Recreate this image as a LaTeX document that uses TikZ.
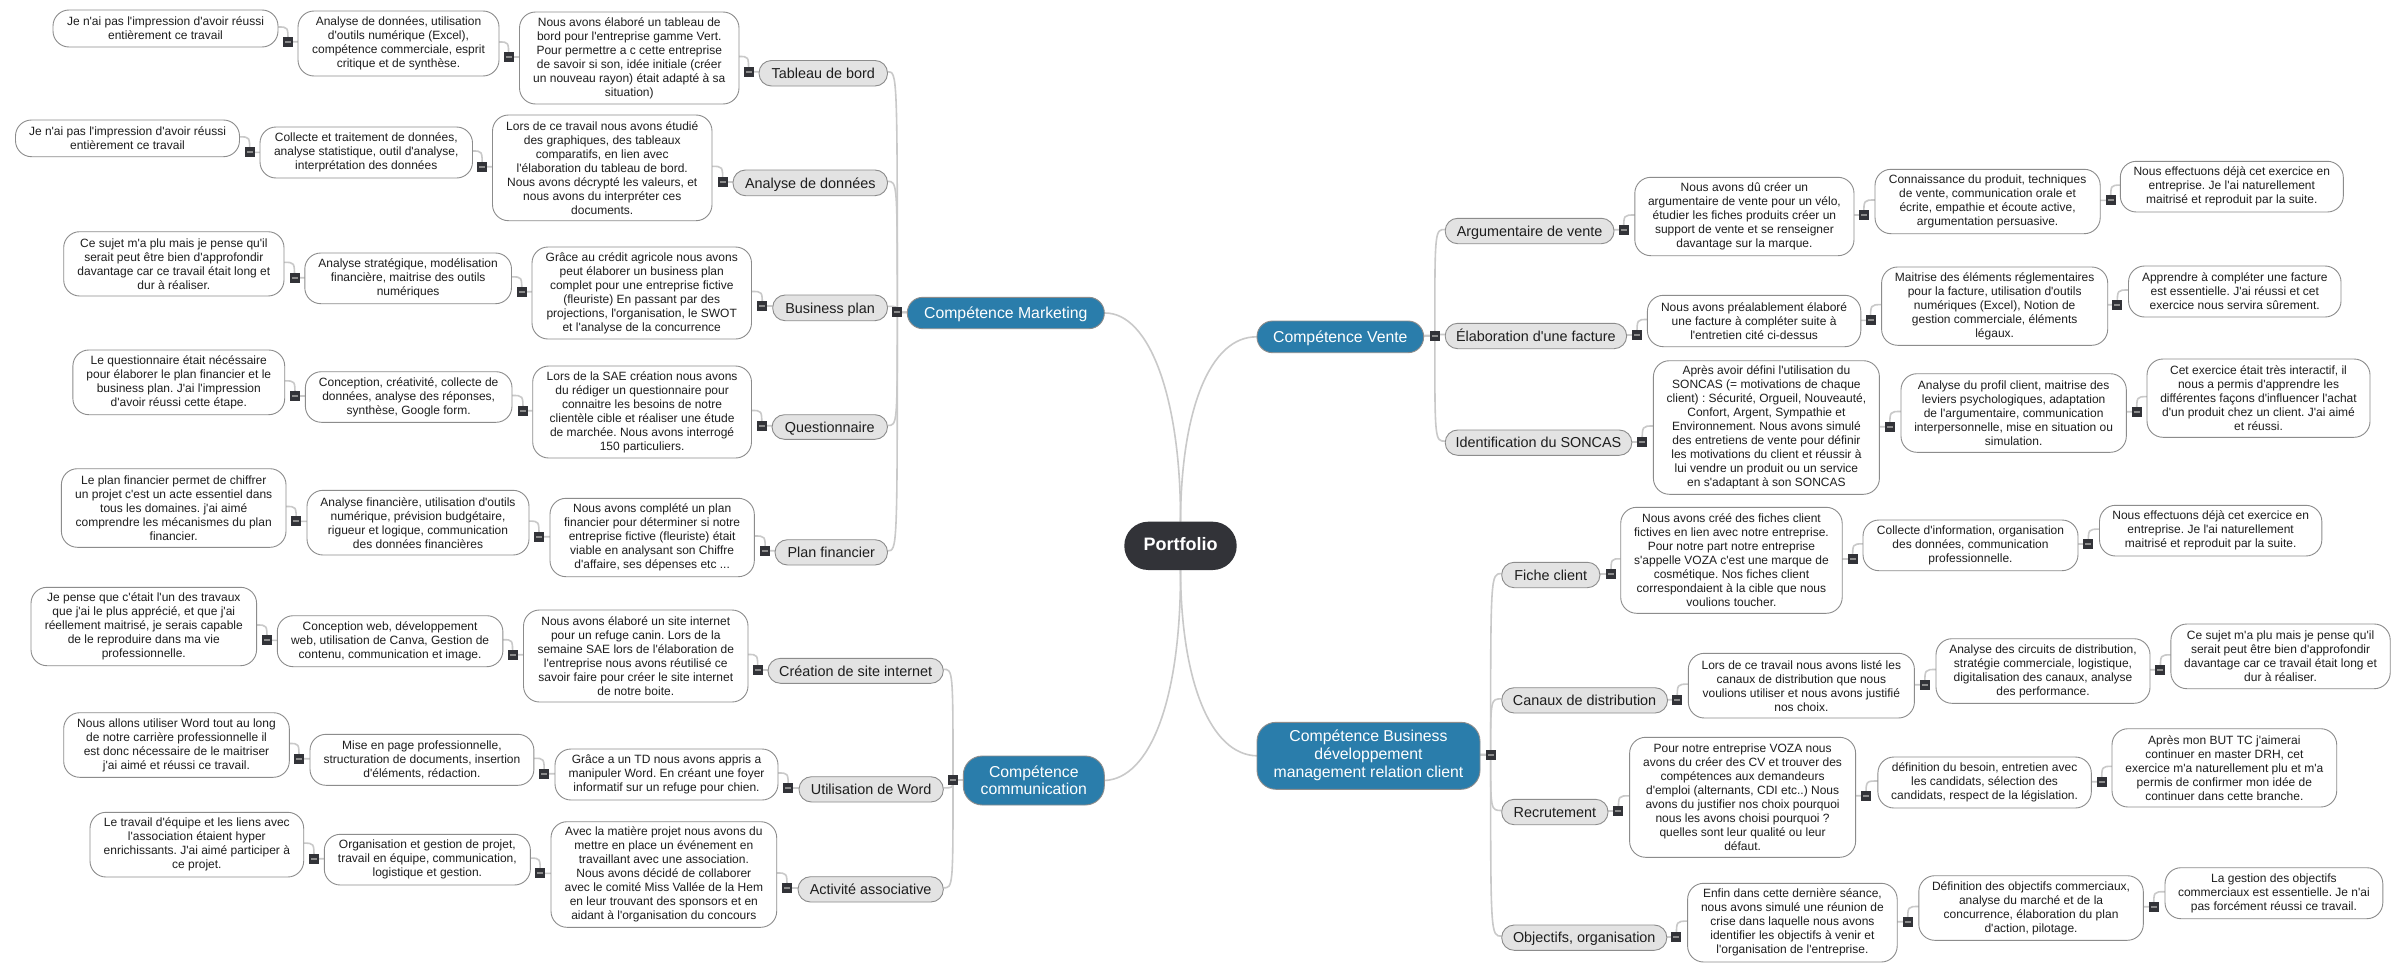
\documentclass[tikz,border=0pt]{standalone}
\usepackage{fontspec}
\setmainfont[Ligatures=TeXOff]{Liberation Sans}
\usetikzlibrary{backgrounds}
\definecolor{conn}{HTML}{C9C9C9}
\definecolor{edge}{HTML}{8C8C8C}
\definecolor{grayfill}{HTML}{E3E3E3}
\definecolor{bluefill}{HTML}{2A7DAB}
\definecolor{darkfill}{HTML}{323338}
\definecolor{ink}{HTML}{1E1E1E}
\frenchspacing
\tikzset{
  x=1pt,y=-1pt,
  base/.style={inner sep=0pt,outer sep=0pt,align=center,draw=edge,line width=0.9pt,text=ink},
  wbox/.style={base,fill=white,rounded corners=16pt,font=\frenchspacing\fontsize{12}{14}\selectfont},
  gbox/.style={base,fill=grayfill,rounded corners=12.5pt,text height=13.5pt,text depth=3pt,font=\frenchspacing\fontsize{14.4}{17}\selectfont},
  bbox/.style={base,fill=bluefill,rounded corners=15.5pt,text=white,font=\fontsize{15.8}{18}\selectfont},
  bline/.style={bbox,text height=14pt,text depth=3.5pt},
  bmulti/.style={bbox,rounded corners=19pt},
  pbox/.style={base,draw=none,fill=darkfill,rounded corners=24pt,text=white,text height=13pt,text depth=3.5pt,font=\fontsize{18}{21}\selectfont\bfseries},
  toggle/.style={inner sep=0pt,outer sep=0pt,fill=darkfill,minimum width=10pt,minimum height=10pt},
  linkline/.style={draw=conn,line width=1.6pt},
}
\newcommand{\nb}[7][wbox]{%
  \pgfmathsetmacro{\cxx}{(#3+#5)/2}\pgfmathsetmacro{\cyy}{(#4+#6)/2}%
  \pgfmathsetmacro{\www}{#5-#3}\pgfmathsetmacro{\hhh}{#6-#4}%
  \node[#1,minimum width=\www pt,minimum height=\hhh pt] (#2) at (\cxx,\cyy) {#7};}
\newcommand{\mk}[3]{\node[toggle] (#1) at (#2,#3) {\textcolor{black!45}{\rule[0pt]{6pt}{2pt}}};}
\newcommand{\lnkL}[3]{\coordinate (lnkend) at ([yshift=1.5pt]#1.east);\draw[linkline] (lnkend) .. controls (#2.center |- lnkend) and (#2.center |- lnkend) .. (#2.center) -- (#2.center -| #3.west);}
\newcommand{\lnkR}[3]{\coordinate (lnkend) at ([yshift=1.5pt]#1.west);\draw[linkline] (lnkend) .. controls (#2.center |- lnkend) and (#2.center |- lnkend) .. (#2.center) -- (#2.center -| #3.east);}
\begin{document}
\begin{tikzpicture}
\path[use as bounding box] (0,0) rectangle (2406,969);
% centre
\nb[pbox]{port}{1124.3}{521.7}{1236.7}{570}{Portfolio}
\nb[bline]{mkt}{907.3}{297.3}{1104.3}{328.7}{Compétence Marketing}
\nb[bmulti,font=\fontsize{15.8}{17}\selectfont]{com}{963.3}{756}{1104.3}{805}{Compétence\\communication}
\nb[bline]{ven}{1257}{321}{1423.6}{352.7}{Compétence Vente}
\nb[bmulti]{bus}{1257}{722.3}{1480}{789.3}{Compétence Business\\développement\\management relation client}
% Marketing
\nb[gbox]{a0}{759}{60.5}{887.5}{86}{Tableau de bord}
\nb{a1}{519.5}{12}{739}{104}{Nous avons élaboré un tableau de\\bord pour l'entreprise gamme Vert.\\Pour permettre a c cette entreprise\\de savoir si son, idée initiale (créer\\un nouveau rayon) était adapté à sa\\situation)}
\nb{a2}{298}{11}{499}{76}{Analyse de données, utilisation\\d'outils numérique (Excel),\\compétence commerciale, esprit\\critique et de synthèse.}
\nb{a3}{53}{10}{278}{47}{Je n'ai pas l'impression d'avoir réussi\\entièrement ce travail}
\nb[gbox]{b0}{733}{170}{887.5}{195.7}{Analyse de données}
\nb{b1}{492.5}{115}{712}{220.7}{Lors de ce travail nous avons étudié\\des graphiques, des tableaux\\comparatifs, en lien avec\\l'élaboration du tableau de bord.\\Nous avons décrypté les valeurs, et\\nous avons du interpréter ces\\documents.}
\nb{b2}{260}{127}{472.5}{178}{Collecte et traitement de données,\\analyse statistique, outil d'analyse,\\interprétation des données}
\nb{b3}{15.5}{120}{239.5}{156.7}{Je n'ai pas l'impression d'avoir réussi\\entièrement ce travail}
\nb[gbox]{c0}{772.7}{295}{887.5}{320.7}{Business plan}
\nb{c1}{532}{247}{751.5}{339}{Grâce au crédit agricole nous avons\\peut élaborer un business plan\\complet pour une entreprise fictive\\(fleuriste) En passant par des\\projections, l'organisation, le SWOT\\et l'analyse de la concurrence}
\nb{c2}{304.8}{253}{511.5}{303.7}{Analyse stratégique, modélisation\\financière, maitrise des outils\\numériques}
\nb{c3}{63.7}{231.7}{284}{296}{Ce sujet m'a plu mais je pense qu'il\\serait peut être bien d'approfondir\\davantage car ce travail était long et\\dur à réaliser.}
\nb[gbox]{d0}{772}{414.7}{887.5}{439.3}{Questionnaire}
\nb{d1}{532.7}{366}{751.5}{458}{Lors de la SAE création nous avons\\du rédiger un questionnaire pour\\connaitre les besoins de notre\\clientèle cible et réaliser une étude\\de marchée. Nous avons interrogé\\150 particuliers.}
\nb{d2}{305.4}{371.7}{512}{422.3}{Conception, créativité, collecte de\\données, analyse des réponses,\\synthèse, Google form.}
\nb{d3}{72.9}{350}{284.7}{414.7}{Le questionnaire était nécéssaire\\pour élaborer le plan financier et le\\business plan. J'ai l'impression\\d'avoir réussi cette étape.}
\nb[gbox]{e0}{775}{539.7}{887.5}{565}{Plan financier}
\nb{e1}{550}{498.3}{754.3}{576.7}{Nous avons complété un plan\\financier pour déterminer si notre\\entreprise fictive (fleuriste) était\\viable en analysant son Chiffre\\d'affaire, ses dépenses etc ...}
\nb{e2}{307}{490.3}{529}{555}{Analyse financière, utilisation d'outils\\numérique, prévision budgétaire,\\rigueur et logique, communication\\des données financières}
\nb{e3}{61.4}{468.7}{286}{547.3}{Le plan financier permet de chiffrer\\un projet c'est un acte essentiel dans\\tous les domaines. j'ai aimé\\comprendre les mécanismes du plan\\financier.}
% Communication
\nb[gbox]{f0}{768}{658.3}{943.3}{683.3}{Création de site internet}
\nb{f1}{523.5}{610}{748}{702}{Nous avons élaboré un site internet\\pour un refuge canin. Lors de la\\semaine SAE lors de l'élaboration de\\l'entreprise nous avons réutilisé ce\\savoir faire pour créer le site internet\\de notre boite.}
\nb{f2}{277.3}{615.7}{502.9}{666.7}{Conception web, développement\\web, utilisation de Canva, Gestion de\\contenu, communication et image.}
\nb{f3}{31}{587.3}{256.6}{665.7}{Je pense que c'était l'un des travaux\\que j'ai le plus apprécié, et que j'ai\\réellement maitrisé, je serais capable\\de le reproduire dans ma vie\\professionnelle.}
\nb[gbox]{g0}{799}{776.7}{943.3}{802}{Utilisation de Word}
\nb{g1}{555}{749}{778}{800}{Grâce a un TD nous avons appris a\\manipuler Word. En créant une foyer\\informatif sur un refuge pour chien.}
\nb{g2}{310}{734.3}{533.9}{785.3}{Mise en page professionnelle,\\structuration de documents, insertion\\d'éléments, rédaction.}
\nb{g3}{63.7}{712.7}{289.3}{777.3}{Nous allons utiliser Word tout au long\\de notre carrière professionnelle il\\est donc nécessaire de le maitriser\\j'ai aimé et réussi ce travail.}
\nb[gbox]{h0}{798}{876.7}{943.3}{902}{Activité associative}
\nb{h1}{551}{821.7}{776.7}{927.3}{Avec la matière projet nous avons du\\mettre en place un événement en\\travaillant avec une association.\\Nous avons décidé de collaborer\\avec le comité Miss Vallée de la Hem\\en leur trouvant des sponsors et en\\aidant à l'organisation du concours}
\nb{h2}{324.3}{834.3}{530.4}{885}{Organisation et gestion de projet,\\travail en équipe, communication,\\logistique et gestion.}
\nb{h3}{90}{812.3}{303.7}{877}{Le travail d'équipe et les liens avec\\l'association étaient hyper\\enrichissants. J'ai aimé participer à\\ce projet.}
% Vente
\nb[gbox]{i0}{1445.2}{218.3}{1614}{243.7}{Argumentaire de vente}
\nb{i1}{1634.8}{177.3}{1854}{255.7}{Nous avons dû créer un\\argumentaire de vente pour un vélo,\\étudier les fiches produits créer un\\support de vente et se renseigner\\davantage sur la marque.}
\nb{i2}{1875}{169.3}{2100.2}{233.7}{Connaissance du produit, techniques\\de vente, communication orale et\\écrite, empathie et écoute active,\\argumentation persuasive.}
\nb{i3}{2120.3}{161.3}{2343.3}{212}{Nous effectuons déjà cet exercice en\\entreprise. Je l'ai naturellement\\maitrisé et reproduit par la suite.}
\nb[gbox]{j0}{1445.2}{323.3}{1626.6}{348.7}{Élaboration d'une facture}
\nb{j1}{1647.4}{295.3}{1860.8}{346.7}{Nous avons préalablement élaboré\\une facture à compléter suite à\\l'entretien cité ci-dessus}
\nb{j2}{1881.6}{267}{2107.7}{345.3}{Maitrise des éléments réglementaires\\pour la facture, utilisation d'outils\\numériques (Excel), Notion de\\gestion commerciale, éléments\\légaux.}
\nb{j3}{2128.5}{266}{2341}{317}{Apprendre à compléter une facture\\est essentielle. J'ai réussi et cet\\exercice nous servira sûrement.}
\nb[gbox]{k0}{1445.2}{430}{1631.8}{455.3}{Identification du SONCAS}
\nb{k1}{1653.4}{360.7}{1879.4}{494.3}{Après avoir défini l'utilisation du\\SONCAS (= motivations de chaque\\client) : Sécurité, Orgueil, Nouveauté,\\Confort, Argent, Sympathie et\\Environnement. Nous avons simulé\\des entretiens de vente pour définir\\les motivations du client et réussir à\\lui vendre un produit ou un service\\en s'adaptant à son SONCAS}
\nb{k2}{1901}{373.7}{2126.3}{452.3}{Analyse du profil client, maitrise des\\leviers psychologiques, adaptation\\de l'argumentaire, communication\\interpersonnelle, mise en situation ou\\simulation.}
\nb{k3}{2147}{359}{2370}{437.3}{Cet exercice était très interactif, il\\nous a permis d'apprendre les\\différentes façons d'influencer l'achat\\d'un produit chez un client. J'ai aimé\\et réussi.}
% Business
\nb[gbox]{l0}{1501.7}{562.3}{1599.9}{587.7}{Fiche client}
\nb{l1}{1620.7}{507.3}{1842.2}{613.3}{Nous avons créé des fiches client\\fictives en lien avec notre entreprise.\\Pour notre part notre entreprise\\s'appelle VOZA c'est une marque de\\cosmétique. Nos fiches client\\correspondaient à la cible que nous\\voulions toucher.}
\nb{l2}{1863}{520}{2078}{570.7}{Collecte d'information, organisation\\des données, communication\\professionnelle.}
\nb{l3}{2099.5}{505.3}{2321.8}{556}{Nous effectuons déjà cet exercice en\\entreprise. Je l'ai naturellement\\maitrisé et reproduit par la suite.}
\nb[gbox]{n0}{1501.7}{687.7}{1667.5}{713}{Canaux de distribution}
\nb{n1}{1688.3}{653.3}{1914.4}{718}{Lors de ce travail nous avons listé les\\canaux de distribution que nous\\voulions utiliser et nous avons justifié\\nos choix.}
\nb{n2}{1936}{638.7}{2150}{703.3}{Analyse des circuits de distribution,\\stratégie commerciale, logistique,\\digitalisation des canaux, analyse\\des performance.}
\nb{n3}{2170.9}{624}{2390.2}{688.7}{Ce sujet m'a plu mais je pense qu'il\\serait peut être bien d'approfondir\\davantage car ce travail était long et\\dur à réaliser.}
\nb[gbox]{o0}{1501.7}{799.3}{1608}{824.7}{Recrutement}
\nb{o1}{1629.6}{737.3}{1855.6}{857.3}{Pour notre entreprise VOZA nous\\avons du créer des CV et trouver des\\compétences aux demandeurs\\d'emploi (alternants, CDI etc..) Nous\\avons du justifier nos choix pourquoi\\nous les avons choisi pourquoi ?\\quelles sont leur qualité ou leur\\défaut.}
\nb{o2}{1877.9}{757}{2091.3}{808}{définition du besoin, entretien avec\\les candidats, sélection des\\candidats, respect de la législation.}
\nb{o3}{2112}{728.7}{2336.7}{807}{Après mon BUT TC j'aimerai\\continuer en master DRH, cet\\exercice m'a naturellement plu et m'a\\permis de confirmer mon idée de\\continuer dans cette branche.}
\nb[gbox]{q0}{1501.7}{925}{1666.8}{950.3}{Objectifs, organisation}
\nb{q1}{1687.6}{883.3}{1897.2}{962}{Enfin dans cette dernière séance,\\nous avons simulé une réunion de\\crise dans laquelle nous avons\\identifier les objectifs à venir et\\l'organisation de l'entreprise.}
\nb{q2}{1918.8}{875.7}{2143.3}{940.3}{Définition des objectifs commerciaux,\\analyse du marché et de la\\concurrence, élaboration du plan\\d'action, pilotage.}
\nb{q3}{2165}{867.7}{2382.8}{918.7}{La gestion des objectifs\\commerciaux est essentielle. Je n'ai\\pas forcément réussi ce travail.}
% toggles
\mk{mm}{897.3}{312.3}\mk{cm}{953}{780}\mk{vm}{1434.8}{335.7}\mk{zm}{1490.6}{754.7}
\mk{a0m}{748.6}{71.7}\mk{a1m}{508.6}{57}\mk{a2m}{288}{41.7}
\mk{b0m}{722.7}{182}\mk{b1m}{482.2}{166.7}\mk{b2m}{249.7}{152.3}
\mk{c0m}{762.3}{306}\mk{c1m}{521.8}{291.7}\mk{c2m}{294.5}{277.7}
\mk{d0m}{761.8}{425.7}\mk{d1m}{523}{410.7}\mk{d2m}{295}{396}
\mk{e0m}{765.2}{550.7}\mk{e1m}{539}{536.7}\mk{e2m}{296.2}{521.3}
\mk{f0m}{757.7}{670}\mk{f1m}{512.6}{654.7}\mk{f2m}{267}{640.3}
\mk{g0m}{788.2}{788}\mk{g1m}{544.2}{773.7}\mk{g2m}{299}{758.7}
\mk{h0m}{787}{888}\mk{h1m}{540.2}{873.3}\mk{h2m}{314}{858.7}
\mk{i0m}{1623.7}{229.7}\mk{i1m}{1863.8}{215}\mk{i2m}{2110.7}{200.3}
\mk{j0m}{1637}{335}\mk{j1m}{1870.5}{320.3}\mk{j2m}{2117.3}{304.7}
\mk{k0m}{1642.2}{442}\mk{k1m}{1889.8}{426.7}\mk{k2m}{2136.7}{411.7}
\mk{l0m}{1611}{574}\mk{l1m}{1852.6}{559}\mk{l2m}{2088.3}{544}
\mk{n0m}{1677.2}{699.7}\mk{n1m}{1924.8}{684.7}\mk{n2m}{2160.4}{669.7}
\mk{o0m}{1618.4}{811}\mk{o1m}{1866}{795.7}\mk{o2m}{2101.7}{781.7}
\mk{q0m}{1676.4}{937}\mk{q1m}{1907.7}{921.7}\mk{q2m}{2153.7}{906.7}
\begin{pgfonlayer}{background}
\fill[white] (0,0) rectangle (2406,969);
\draw[linkline] (port.north) .. controls (1181,400) and (1150,312) .. (mkt.east);
\draw[linkline] (port.north) .. controls (1181,410) and (1210,336) .. (ven.west);
\draw[linkline] (port.south) .. controls (1181,700) and (1150,779) .. (com.east);
\draw[linkline] (port.south) .. controls (1181,680) and (1210,755) .. (bus.west);
\foreach \r in {a,b,c,d,e}{\lnkL{\r0}{mm}{mkt}\lnkL{\r1}{\r0m}{\r0}\lnkL{\r2}{\r1m}{\r1}\lnkL{\r3}{\r2m}{\r2}}
\foreach \r in {f,g,h}{\lnkL{\r0}{cm}{com}\lnkL{\r1}{\r0m}{\r0}\lnkL{\r2}{\r1m}{\r1}\lnkL{\r3}{\r2m}{\r2}}
\foreach \r in {i,j,k}{\lnkR{\r0}{vm}{ven}\lnkR{\r1}{\r0m}{\r0}\lnkR{\r2}{\r1m}{\r1}\lnkR{\r3}{\r2m}{\r2}}
\foreach \r in {l,n,o,q}{\lnkR{\r0}{zm}{bus}\lnkR{\r1}{\r0m}{\r0}\lnkR{\r2}{\r1m}{\r1}\lnkR{\r3}{\r2m}{\r2}}
\end{pgfonlayer}
\end{tikzpicture}
\end{document}
